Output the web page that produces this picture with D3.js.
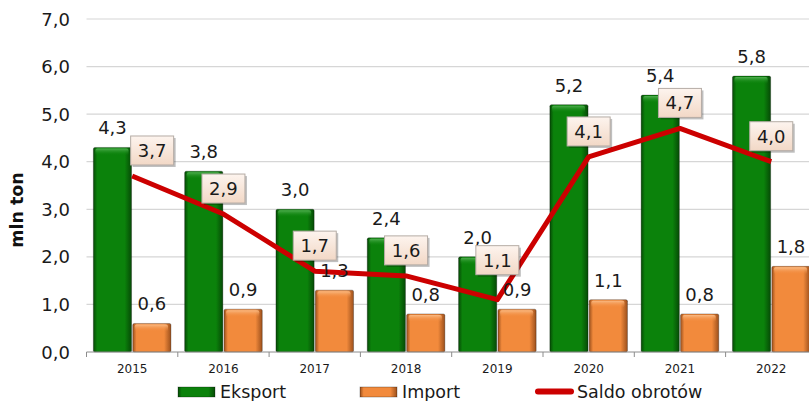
<!DOCTYPE html>
<html>
<head>
<meta charset="utf-8">
<script src="https://cdn.jsdelivr.net/npm/d3@7/dist/d3.min.js"></script>
<style>
    html, body { margin: 0; padding: 0; background: #fff; }
    svg { display: block; font-family: "DejaVu Sans", Verdana, sans-serif; }
</style>
</head>
<body>
<div id="chart"></div>
<script>
// data
const years = ["2015", "2016", "2017", "2018", "2019", "2020", "2021", "2022"];
const eksport = [4.3, 3.8, 3.0, 2.4, 2.0, 5.2, 5.4, 5.8];
const imports = [0.6, 0.9, 1.3, 0.8, 0.9, 1.1, 0.8, 1.8];
const saldo = [3.7, 2.9, 1.7, 1.6, 1.1, 4.1, 4.7, 4.0];
const yTicks = [0, 1, 2, 3, 4, 5, 6, 7];
const seriesNames = ["Eksport", "Import", "Saldo obrotów"];

// label nudges for saldo boxes (moved by hand in the original)
const boxNudge = {"2015": [20, 0], "2019": [0, -14]};

const width = 809;
const height = 401;
const margin = {top: 19, left: 86.5, bottom: 49};
const plotRight = 816.9; // plot runs past the right edge, as in the original

const locale = d3.formatLocale({decimal: ",", thousands: " ", grouping: [3], currency: ["", ""]});
const fmt = locale.format(".1f");

const svg = d3.select("#chart")
    .append("svg")
    .attr("width", width)
    .attr("height", height);

const defs = svg.append("defs");

function barGradients(id, edge, main, light) {
    let g = defs.append("linearGradient").attr("id", id).attr("x1", 0).attr("x2", 1).attr("y1", 0).attr("y2", 0);
    g.append("stop").attr("offset", "0%").attr("stop-color", edge);
    g.append("stop").attr("offset", "10%").attr("stop-color", main);
    g.append("stop").attr("offset", "82%").attr("stop-color", main);
    g.append("stop").attr("offset", "100%").attr("stop-color", edge);
    let t = defs.append("linearGradient").attr("id", id + "-top").attr("x1", 0).attr("x2", 0).attr("y1", 0).attr("y2", 1);
    t.append("stop").attr("offset", "0%").attr("stop-color", light);
    t.append("stop").attr("offset", "100%").attr("stop-color", main).attr("stop-opacity", 0);
}
barGradients("grad-eks", "#064a06", "#0b820b", "#4fae4f");
barGradients("grad-imp", "#9c501c", "#f28a3c", "#f9bb85");

let boxGrad = defs.append("linearGradient").attr("id", "grad-box").attr("x1", 0).attr("x2", 0).attr("y1", 0).attr("y2", 1);
boxGrad.append("stop").attr("offset", "0%").attr("stop-color", "#fdf4ee");
boxGrad.append("stop").attr("offset", "100%").attr("stop-color", "#f2d8c6");

const x = d3.scaleBand()
    .domain(years)
    .range([margin.left, plotRight])
    .paddingInner(0.15)
    .paddingOuter(0.075);

const xs = d3.scaleBand()
    .domain(["eks", "imp"])
    .range([0, x.bandwidth()])
    .paddingInner(0.03);

const y = d3.scaleLinear()
    .domain([0, 7])
    .range([height - margin.bottom, margin.top]);

const step = x.step();

// gridlines
svg.append("g")
    .attr("class", "grid")
    .selectAll("line")
    .data(yTicks.filter(d => d > 0))
    .enter().append("line")
    .attr("x1", margin.left)
    .attr("x2", plotRight)
    .attr("y1", d => y(d))
    .attr("y2", d => y(d))
    .attr("stroke", "#d6d6d6")
    .attr("stroke-width", 1.2);

// y tick labels
svg.append("g")
    .selectAll("text")
    .data(yTicks)
    .enter().append("text")
    .attr("x", 70)
    .attr("y", d => y(d) + 6.5)
    .attr("text-anchor", "end")
    .style("font-size", "18px")
    .style("fill", "#1a1a1a")
    .text(d => fmt(d));

// y title
svg.append("text")
    .attr("transform", "translate(23,210) rotate(-90)")
    .attr("text-anchor", "middle")
    .style("font-size", "17.5px")
    .style("font-weight", "bold")
    .style("fill", "#111")
    .text("mln ton");

// bars
const rows = years.map((yr, i) => ({year: yr, eks: eksport[i], imp: imports[i], saldo: saldo[i]}));

function drawBars(key, grad) {
    let g = svg.append("g").attr("class", "bars-" + key);
    let bar = g.selectAll("g")
        .data(rows)
        .enter().append("g")
        .attr("transform", d => `translate(${x(d.year) + xs(key)},0)`);
    bar.append("rect")
        .attr("x", 0)
        .attr("y", d => y(d[key]))
        .attr("width", xs.bandwidth())
        .attr("height", d => y(0) - y(d[key]))
        .attr("rx", 1.5)
        .attr("fill", `url(#${grad})`)
        .attr("stroke", "rgba(0,0,0,0.35)")
        .attr("stroke-width", 0.8);
    bar.append("rect")
        .attr("x", 2)
        .attr("y", d => y(d[key]) + 1)
        .attr("width", xs.bandwidth() - 5)
        .attr("height", 7)
        .attr("rx", 2)
        .attr("fill", `url(#${grad}-top)`);
}
drawBars("eks", "grad-eks");
drawBars("imp", "grad-imp");

// x axis
const axisG = svg.append("g").attr("class", "x-axis");
axisG.append("line")
    .attr("x1", margin.left)
    .attr("x2", plotRight)
    .attr("y1", y(0))
    .attr("y2", y(0))
    .attr("stroke", "#8c8c8c")
    .attr("stroke-width", 1);
axisG.selectAll(".tick")
    .data(years.concat(["end"]))
    .enter().append("line")
    .attr("x1", (d, i) => margin.left + i * step)
    .attr("x2", (d, i) => margin.left + i * step)
    .attr("y1", y(0))
    .attr("y2", y(0) + 5)
    .attr("stroke", "#8c8c8c");
axisG.selectAll("text")
    .data(years)
    .enter().append("text")
    .attr("x", d => x(d) + x.bandwidth() / 2)
    .attr("y", y(0) + 21)
    .attr("text-anchor", "middle")
    .style("font-size", "12px")
    .style("fill", "#1a1a1a")
    .text(d => d);

// saldo line
const lineX = d => x(d.year) + x.bandwidth() / 2;
const line = d3.line()
    .x(lineX)
    .y(d => y(d.saldo));

svg.append("path")
    .datum(rows)
    .attr("d", line)
    .attr("fill", "none")
    .attr("stroke", "#cc0000")
    .attr("stroke-width", 5)
    .attr("stroke-linejoin", "round");

// value labels above bars
function barLabels(key) {
    svg.append("g")
        .selectAll("text")
        .data(rows)
        .enter().append("text")
        .attr("x", d => x(d.year) + xs(key) + xs.bandwidth() / 2)
        .attr("y", d => y(d[key]) - 13)
        .attr("text-anchor", "middle")
        .style("font-size", "18px")
        .style("fill", "#1a1a1a")
        .text(d => fmt(d[key]));
}
barLabels("eks");
barLabels("imp");

// saldo boxes
const boxW = 43, boxH = 29;
const boxes = svg.append("g")
    .selectAll("g")
    .data(rows)
    .enter().append("g")
    .attr("transform", d => {
        let n = boxNudge[d.year] || [0, 0];
        return `translate(${lineX(d) - boxW / 2 + n[0]},${y(d.saldo) - 11 - boxH + n[1]})`;
    });
boxes.append("rect")
    .attr("x", 2)
    .attr("y", 2)
    .attr("width", boxW)
    .attr("height", boxH)
    .attr("fill", "rgba(0,0,0,0.25)");
boxes.append("rect")
    .attr("width", boxW)
    .attr("height", boxH)
    .attr("fill", "url(#grad-box)")
    .attr("stroke", "#b5aca5")
    .attr("stroke-width", 1);
boxes.append("text")
    .attr("x", boxW / 2)
    .attr("y", boxH - 8)
    .attr("text-anchor", "middle")
    .style("font-size", "18px")
    .style("fill", "#1a1a1a")
    .text(d => fmt(d.saldo));

// legend
const legend = svg.append("g").attr("class", "legend");
const legendX = [178, 360, 535];
legendX.forEach((lx, i) => {
    if (i < 2) {
        legend.append("rect")
            .attr("x", lx)
            .attr("y", 387)
            .attr("width", 37)
            .attr("height", 10)
            .attr("fill", i === 0 ? "url(#grad-eks)" : "url(#grad-imp)")
            .attr("stroke", "rgba(0,0,0,0.35)")
            .attr("stroke-width", 0.8);
    } else {
        legend.append("line")
            .attr("x1", lx + 3)
            .attr("x2", lx + 36)
            .attr("y1", 391.5)
            .attr("y2", 391.5)
            .attr("stroke", "#cc0000")
            .attr("stroke-width", 6)
            .attr("stroke-linecap", "round");
    }
    legend.append("text")
        .attr("x", lx + 42)
        .attr("y", 398)
        .style("font-size", "17.5px")
        .style("fill", "#1a1a1a")
        .text(seriesNames[i]);
});
</script>
</body>
</html>
